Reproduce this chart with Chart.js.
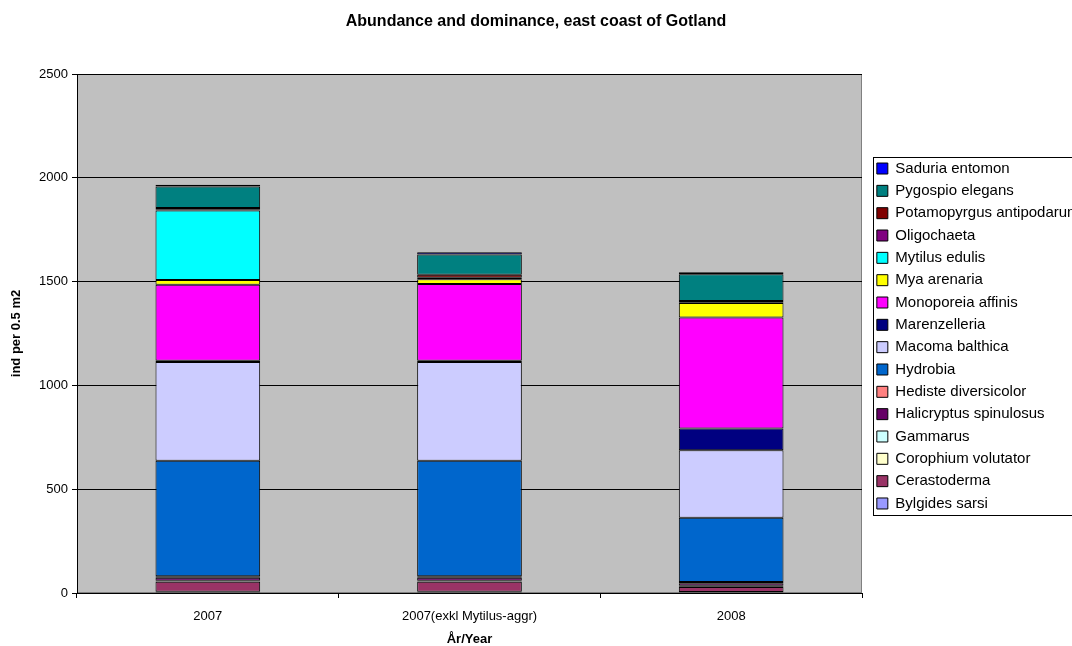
<!DOCTYPE html>
<html>
<head>
<meta charset="utf-8">
<script src="https://cdn.jsdelivr.net/npm/chart.js@4.4.1/dist/chart.umd.min.js"></script>
<style>
  html, body { margin: 0; padding: 0; background: #ffffff; overflow: hidden; }
  #wrap { width: 1072px; height: 646px; }
</style>
</head>
<body>
<div id="wrap"><canvas id="c" width="1072" height="646"></canvas></div>
<script>
// ---- Data (bottom of stack first) ----
const categories = ['2007', '2007(exkl Mytilus-aggr)', '2008'];
const yTicks = [0, 500, 1000, 1500, 2000, 2500];

const bylgidesSarsi          = [6, 6, 5];
const cerastoderma           = [48, 48, 24];
const corophiumVolutator     = [3, 3, 3];
const gammarus               = [2, 2, 3];
const halicryptusSpinulosus  = [14, 14, 12];
const hedisteDiversicolor    = [8, 8, 6];
const hydrobia               = [556, 556, 310];
const macomaBalthica         = [476, 476, 325];
const marenzelleria          = [6, 6, 104];
const monoporeiaAffinis      = [366, 370, 535];
const myaArenaria            = [23, 22, 70];
const mytilusEdulis          = [335, 0, 0];
const oligochaeta            = [3, 8, 4];
const potamopyrgusAntipodarum= [9, 14, 6];
const pygospioElegans        = [103, 98, 129];
const saduriaEntomon         = [8, 10, 9];

const seriesNames = ['Bylgides sarsi','Cerastoderma','Corophium volutator','Gammarus',
  'Halicryptus spinulosus','Hediste diversicolor','Hydrobia','Macoma balthica','Marenzelleria',
  'Monoporeia affinis','Mya arenaria','Mytilus edulis','Oligochaeta','Potamopyrgus antipodarum',
  'Pygospio elegans','Saduria entomon'];
const seriesValues = [bylgidesSarsi, cerastoderma, corophiumVolutator, gammarus,
  halicryptusSpinulosus, hedisteDiversicolor, hydrobia, macomaBalthica, marenzelleria,
  monoporeiaAffinis, myaArenaria, mytilusEdulis, oligochaeta, potamopyrgusAntipodarum,
  pygospioElegans, saduriaEntomon];
const seriesColors = ['#9999FF','#993366','#FFFFCC','#CCFFFF','#660066','#FF8080','#0066CC',
  '#CCCCFF','#000080','#FF00FF','#FFFF00','#00FFFF','#800080','#800000','#008080','#0000FF'];

const FONT = "'Liberation Sans', Arial, Helvetica, sans-serif";

const plotBg = {
  id: 'plotBg',
  beforeDraw(chart) {
    const {ctx, chartArea: a} = chart;
    ctx.save();
    ctx.fillStyle = '#C0C0C0';
    ctx.fillRect(a.left, a.top, a.right - a.left, a.bottom - a.top);
    ctx.strokeStyle = '#808080';
    ctx.lineWidth = 1;
    ctx.strokeRect(a.left + 0.5, a.top + 0.5, a.right - a.left - 1, a.bottom - a.top - 1);
    ctx.restore();
  }
};

const LEGEND_SHIFT_X = 7.5;
const LEGEND_SHIFT_Y = 2.5;
const legendFrame = {
  id: 'legendFrame',
  afterLayout(chart) {
    const l = chart.legend;
    l.left += LEGEND_SHIFT_X; l.right += LEGEND_SHIFT_X;
    l.top += LEGEND_SHIFT_Y; l.bottom += LEGEND_SHIFT_Y;
  },
  afterDraw(chart) {
    const l = chart.legend;
    if (!l || !l.columnSizes || !l.columnSizes.length) return;
    const pad = l.options.labels.padding;
    const colH = l.columnSizes[0].height;
    const listTop = (l.top + pad + l.bottom - colH) / 2;
    const listBottom = listTop + colH - pad;
    const ctx = chart.ctx;
    ctx.save();
    ctx.strokeStyle = '#000';
    ctx.lineWidth = 1;
    const x = Math.round(l.left + 3) + 0.5;
    ctx.strokeRect(x, Math.round(listTop - 4) + 0.5, chart.width + 20 - x, Math.round(listBottom - listTop + 8));
    ctx.restore();
  }
};

new Chart(document.getElementById('c'), {
  type: 'bar',
  data: {
    labels: categories,
    datasets: seriesNames.map((name, i) => ({
      label: name,
      data: seriesValues[i],
      backgroundColor: seriesColors[i],
      borderColor: '#000000',
      borderWidth: 1,
      borderSkipped: false,
      barPercentage: 0.4,
      categoryPercentage: 1.0
    }))
  },
  options: {
    responsive: false,
    animation: false,
    devicePixelRatio: 1,
    layout: { padding: 0 },
    plugins: {
      title: {
        display: true,
        text: 'Abundance and dominance, east coast of Gotland',
        color: '#000',
        font: { family: FONT, size: 16, weight: 'bold', lineHeight: 1.2 },
        padding: { top: 12.4, bottom: 42.4 }
      },
      legend: {
        display: true,
        position: 'right',
        fullSize: false,
        reverse: true,
        maxWidth: 210,
        labels: {
          color: '#000',
          font: { family: FONT, size: 15 },
          boxWidth: 11,
          boxHeight: 11,
          padding: 7.33
        }
      },
      tooltip: { enabled: false }
    },
    scales: {
      x: {
        stacked: true,
        border: { color: '#000', width: 1 },
        grid: { display: true, drawOnChartArea: false, drawTicks: true, tickLength: 5, color: '#000', offset: true },
        ticks: { color: '#000', font: { family: FONT, size: 13 }, padding: 11, maxRotation: 0 },
        title: { display: true, text: 'År/Year', color: '#000',
                 font: { family: FONT, size: 13, weight: 'bold', lineHeight: 1 }, padding: { top: 0, bottom: 0 } },
        afterFit(scale) { scale.height = 53; }
      },
      y: {
        stacked: true,
        min: 0, max: 2500,
        border: { color: '#000', width: 1 },
        grid: { color: '#000', drawTicks: true, tickLength: 5 },
        afterBuildTicks(scale) { scale.ticks = yTicks.map(v => ({ value: v })); },
        ticks: { color: '#000', font: { family: FONT, size: 13 }, padding: 4,
                 callback: (v) => String(v) },
        title: { display: true, text: 'ind per 0.5 m2', color: '#000',
                 font: { family: FONT, size: 13, weight: 'bold', lineHeight: 1.2 }, padding: { top: 9, bottom: 0 } },
        afterFit(scale) { scale.width = 77; }
      }
    }
  },
  plugins: [plotBg, legendFrame]
});
</script>
</body>
</html>
